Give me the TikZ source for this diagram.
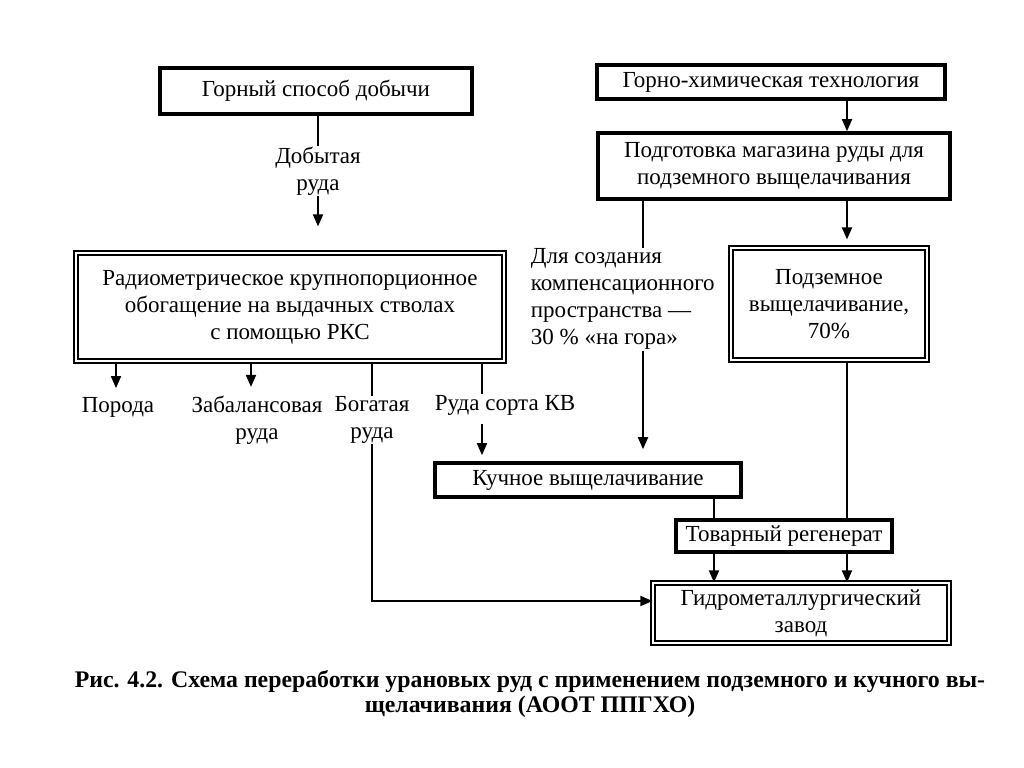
\documentclass[tikz,border=0pt]{standalone}
\usepackage{fontspec}
\setmainfont{Liberation Serif}
\usetikzlibrary{arrows.meta}
\begin{document}
\begin{tikzpicture}[x=0.5pt, y=-0.5pt, line width=0.9pt,
		every node/.style={font=\fontsize{11.5}{13.5}\selectfont, inner sep=0pt, align=center},
		thickbox/.style={draw, line width=1.8pt},
		dblbox/.style={draw, double, line width=0.6pt, double distance=1.4pt},
		arr/.style={-{Triangle[length=6pt, width=5pt]}}]
		\useasboundingbox (0,0) rectangle (1024,767);
		
		% left column
		\node[thickbox, minimum width=156pt, minimum height=23pt] (mining) at (316,91) {Горный способ добычи};
		\node (ore) at (318,171) {Добытая\\руда};
		\node[dblbox, minimum width=214pt, minimum height=54pt] (radio) at (290,307) {Радиометрическое крупнопорционное\\обогащение на выдачных стволах\\с помощью РКС};
		\node (rock) at (118,407) {Порода};
		\node (offbal) at (257,420) {Забалансовая\\руда};
		\node (rich) at (372,420) {Богатая\\руда};
		\node (kv) at (505,405) {Руда сорта КВ};
		
		% right column
		\node[thickbox, minimum width=174pt, minimum height=17pt] (chem) at (771,82) {Горно-химическая технология};
		\node[thickbox, minimum width=176pt, minimum height=33pt] (prep) at (774,166) {Подготовка магазина руды для\\подземного выщелачивания};
		\node[align=left, anchor=north west] (comp) at (530,248) {Для создания\\компенсационного\\пространства —\\30 \% «на гора»};
		\node[dblbox, minimum width=98pt, minimum height=56pt] (under) at (829,304) {Подземное\\выщелачивание,\\70\%};
		\node[thickbox, minimum width=153pt, minimum height=17pt] (heap) at (588,480) {Кучное выщелачивание};
		\node[thickbox, minimum width=108pt, minimum height=16pt] (preg) at (784,536) {Товарный регенерат};
		\node[dblbox, minimum width=148pt, minimum height=30pt] (plant) at (801,613) {Гидрометаллургический\\завод};
		
		\node[font=\bfseries\fontsize{11.9}{12.5}\selectfont] (caption) at (530,694) {Рис. 4.2. Схема переработки урановых руд с применением подземного и кучного вы-\\щелачивания (АООТ ППГХО)};
		
		\coordinate (rockx) at (116,0);
		\coordinate (offx) at (251,0);
		\coordinate (kvx) at (482,0);
		\coordinate (cx) at (643,0);
		\coordinate (hx) at (714,0);
		\coordinate (rx) at (847,0);
		\coordinate (bend) at (372,601);
		
		\draw (mining.south -| ore) -- (ore.north);
		\draw[arr, shorten >=13pt] (ore.south) -- (ore.south |- radio.north);
		\draw[arr, shorten >=4pt] (radio.south -| rockx) -- (rock.north -| rockx);
		\draw[arr, shorten >=4pt] (radio.south -| offx) -- (offbal.north -| offx);
		\draw (radio.south -| rich) -- (rich.north);
		\draw (radio.south -| kvx) -- (kv.north -| kvx);
		\draw[arr, shorten <=4pt, shorten >=3pt] (kv.south -| kvx) -- (heap.north -| kvx);
		\draw[arr] (rich.south) -- (bend) -- (bend -| plant.west);
		
		\draw[arr] (chem.south -| rx) -- (prep.north -| rx);
		\draw[arr, shorten >=4pt] (prep.south -| rx) -- (under.north -| rx);
		\draw (prep.south -| cx) -- (comp.north -| cx);
		\draw[arr, shorten >=6pt] (comp.south -| cx) -- (heap.north -| cx);
		\draw (under.south -| rx) -- (preg.north -| rx);
		\draw (heap.south -| hx) -- (preg.north -| hx);
		\draw[arr] (preg.south -| hx) -- (plant.north -| hx);
		\draw[arr] (preg.south -| rx) -- (plant.north -| rx);
	\end{tikzpicture}
\end{document}
